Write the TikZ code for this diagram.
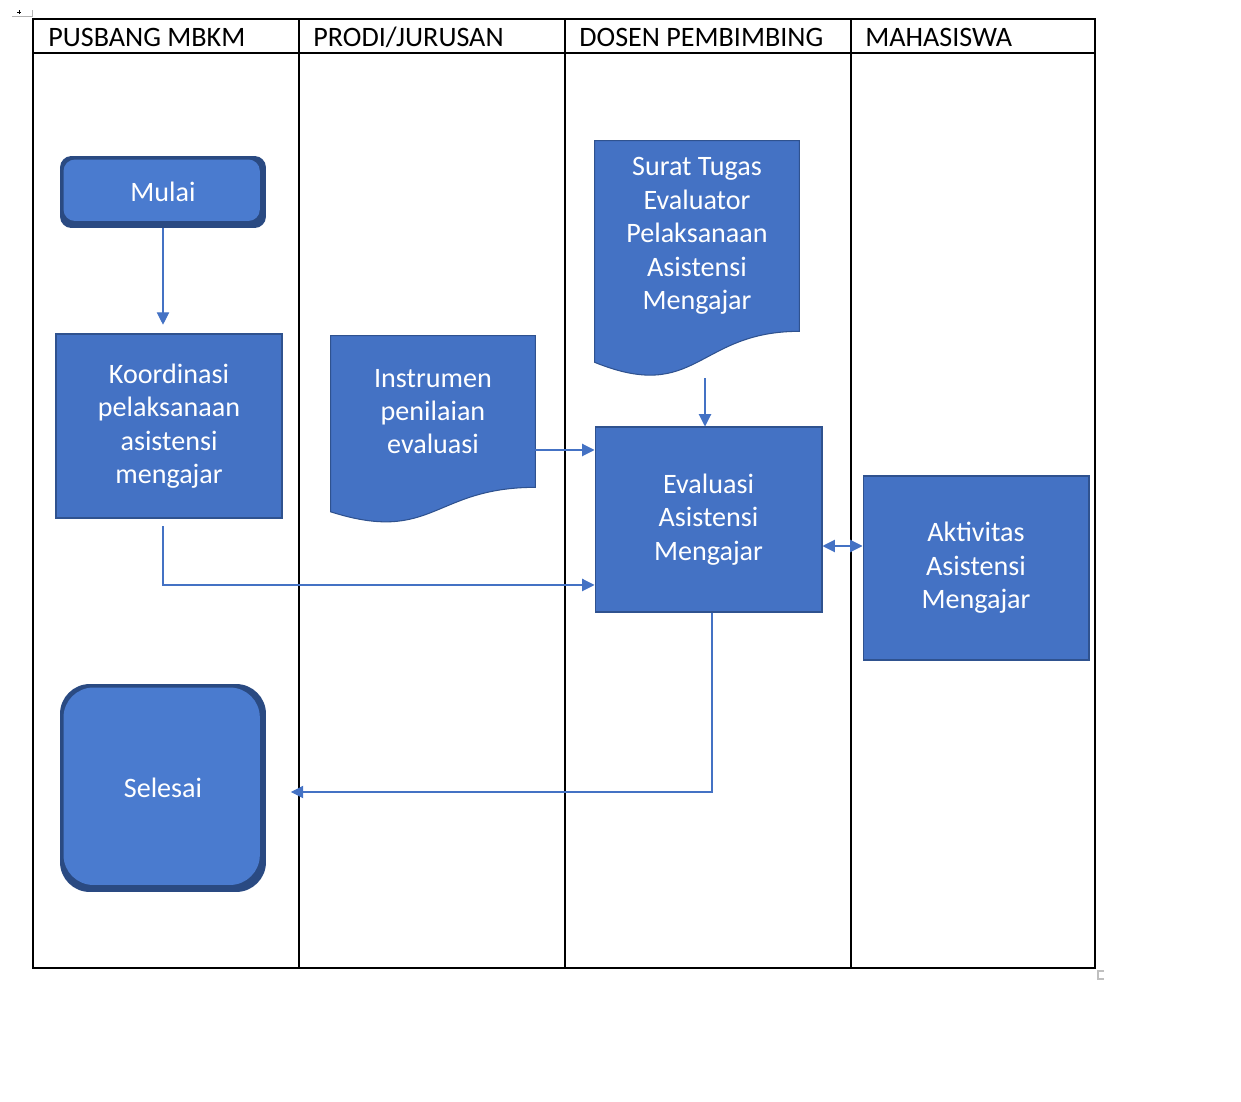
\documentclass[tikz,border=0pt]{standalone}
\usepackage{fontspec}
\setmainfont{Carlito}
\usetikzlibrary{arrows.meta,backgrounds}
\definecolor{boxblue}{HTML}{4472C4}
\definecolor{boxline}{HTML}{2F528F}
\definecolor{bevdark}{HTML}{2A4A82}
\definecolor{bevblue}{HTML}{4A7BCF}

\begin{document}
\begin{tikzpicture}[
        x=0.02cm, y=-0.02cm,
        >={Triangle[length=7pt,width=7pt]},
        lane/.style={line width=1.1pt},
        head/.style={anchor=base west, inner sep=0pt, font=\fontsize{16}{19}\selectfont},
        box/.style={rectangle, draw=boxline, fill=boxblue, line width=0.6pt, text=white, align=center, inner sep=0pt, font=\fontsize{16}{19}\selectfont},
        doc/.style={rectangle, text=white, align=center, inner sep=0pt, font=\fontsize{16}{19}\selectfont},
        docfill/.style={draw=boxline, fill=boxblue, line width=0.6pt},
        terminal/.style={rectangle, rounded corners=#1, fill=bevdark, text=white, inner sep=0pt, font=\fontsize{16}{19}\selectfont,
            path picture={\fill[bevblue, rounded corners=#1] ([xshift=2pt,yshift=-2pt]path picture bounding box.north west) rectangle ([xshift=-3.5pt,yshift=4pt]path picture bounding box.south east);}},
        arrow/.style={->, draw=boxblue, line width=0.6pt}
    ]
        \useasboundingbox (0,0) rectangle (1241,1102);

        % swimlanes
        \draw[lane] (33,19) rectangle (1095,968);
        \draw[lane] (33,53) -- (1095,53);
        \foreach \x in {299,565,851}
            \draw[lane] (\x,19) -- (\x,968);
        \node[head] (h1) at (48,46) {PUSBANG MBKM};
        \node[head] (h2) at (313,46) {PRODI/JURUSAN};
        \node[head] (h3) at (579,46) {DOSEN PEMBIMBING};
        \node[head] (h4) at (865,46) {MAHASISWA};

        % table handles
        \draw[gray!60] (12,16) -- (32,16) -- (32,10);
        \draw[line width=0.4pt] (17,12) -- (21,12) (19,10) -- (19,14);
        \draw[gray!50, line width=1pt] (1104,971) -- (1098,971) -- (1098,979) -- (1104,979);

        % steps
        \node[terminal=6.5pt, minimum width=4.12cm, minimum height=1.44cm] (mulai) at (163,192) {Mulai};
        \node[box, minimum width=4.52cm, minimum height=3.68cm] (koord) at (169,426) {Koordinasi\\pelaksanaan\\asistensi\\mengajar};
        \node[doc, minimum width=4.08cm, minimum height=3.02cm] (instr) at (433,411.5) {Instrumen\\penilaian\\evaluasi};
        \node[doc, minimum width=4.08cm, minimum height=3.8cm] (surat) at (697,236) {Surat Tugas\\Evaluator\\Pelaksanaan\\Asistensi\\Mengajar};
        \node[box, minimum width=4.54cm, minimum height=3.7cm] (eval) at (708.5,519.5) {Evaluasi\\Asistensi\\Mengajar};
        \node[box, minimum width=4.52cm, minimum height=3.68cm] (aktiv) at (976,568) {Aktivitas\\Asistensi\\Mengajar};
        \node[terminal=17pt, minimum width=4.12cm, minimum height=4.16cm] (selesai) at (163,788) {Selesai};

        % document shapes
        \begin{scope}[on background layer]
            \draw[docfill] (instr.north west) -- (instr.north east) -- (instr.south east)
                .. controls (instr.south) and ([yshift=-1.14cm]instr.south) .. ([yshift=-0.49cm]instr.south west) -- cycle;
            \draw[docfill] (surat.north west) -- (surat.north east) -- (surat.south east)
                .. controls (surat.south) and ([yshift=-1.45cm]surat.south) .. ([yshift=-0.62cm]surat.south west) -- cycle;
        \end{scope}

        \draw[arrow, shorten >=5pt] (mulai.south) -- (mulai.south |- koord.north);
        \draw[arrow] ([xshift=0.16cm,yshift=-0.94cm]surat.south) -- ([xshift=0.16cm]surat.south |- eval.north);
        \draw[arrow] ([yshift=-0.77cm]instr.east) -- ([yshift=-0.77cm]instr.east -| eval.west);
        \draw[arrow, shorten <=4.5pt] ([xshift=-0.12cm]koord.south) |- ([yshift=-1.31cm]eval.west);
        \draw[arrow, <->] ([yshift=-0.53cm]eval.east) -- ([yshift=-0.53cm]eval.east -| aktiv.west);
        \draw[arrow, shorten >=14pt] ([xshift=0.07cm]eval.south) |- ([yshift=-0.08cm]selesai.east);
    \end{tikzpicture}
\end{document}
